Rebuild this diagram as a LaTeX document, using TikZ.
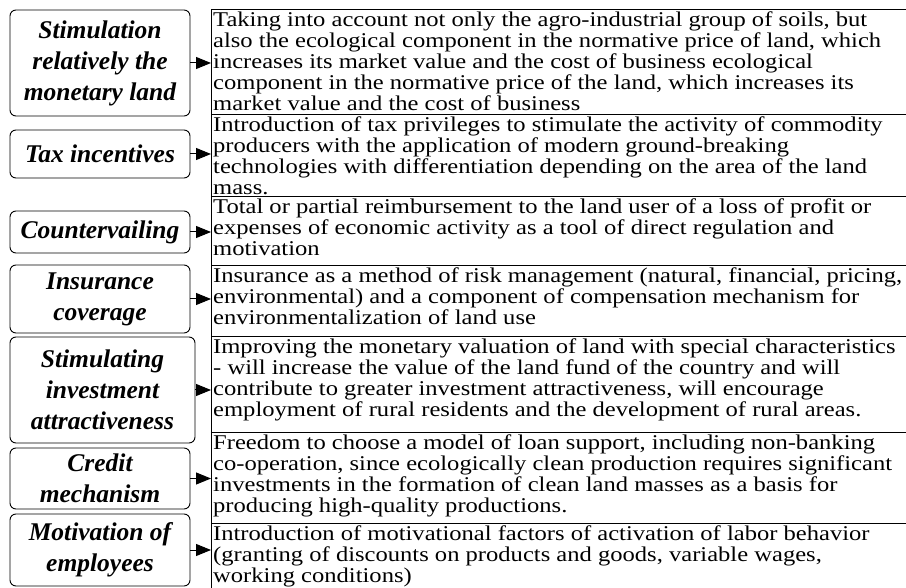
\documentclass[tikz,border=0pt]{standalone}
\usepackage{fontspec}
\setmainfont{Liberation Serif}
\newfontfamily\descfont[FakeStretch=1.17]{Liberation Serif}
\usetikzlibrary{arrows.meta}

\begin{document}
\begin{tikzpicture}[x=1pt,y=-1pt,
   labelbox/.style={draw,rounded corners=6pt,line width=0.9pt,align=center,
      inner sep=0pt,font=\fontsize{25.5}{31}\selectfont\bfseries\itshape},
   descbox/.style={draw,line width=1.1pt,inner sep=0pt,anchor=north west,
      minimum width=720pt},
   desctext/.style={anchor=north west,align=left,inner sep=0pt,
      font=\descfont\fontsize{21}{21}\selectfont},
   arr/.style={line width=1pt,-{Triangle[length=15pt,width=12pt]}}
]
   \useasboundingbox (0,0) rectangle (906,588);
   % description boxes on the right
   \foreach \i/\yt/\yb/\txt in {
      1/9/114/{Taking into account not only the agro-industrial group of soils, but\\
         also the ecological component in the normative price of land, which\\
         increases its market value and the cost of business ecological\\
         component in the normative price of the land, which increases its\\
         market value and the cost of business},
      2/114/196/{Introduction of tax privileges to stimulate the activity of commodity\\
         producers with the application of modern ground-breaking\\
         technologies with differentiation depending on the area of the land\\
         mass.},
      3/196/265/{Total or partial reimbursement to the land user of a loss of profit or\\
         expenses of economic activity as a tool of direct regulation and\\
         motivation},
      4/265/336/{Insurance as a method of risk management (natural, financial, pricing,\\
         environmental) and a component of compensation mechanism for\\
         environmentalization of land use},
      5/336/432/{Improving the monetary valuation of land with special characteristics\\
         - will increase the value of the land fund of the country and will\\
         contribute to greater investment attractiveness, will encourage\\
         employment of rural residents and the development of rural areas.},
      6/432/523/{Freedom to choose a model of loan support, including non-banking\\
         co-operation, since ecologically clean production requires significant\\
         investments in the formation of clean land masses as a basis for\\
         producing high-quality productions.},
      7/523/600/{Introduction of motivational factors of activation of labor behavior\\
         (granting of discounts on products and goods, variable wages,\\
         working conditions)}} {
      \pgfmathsetmacro{\h}{\yb-\yt}
      \node[descbox,minimum height=\h pt] (d\i) at (211,\yt) {};
      \node[desctext] (t\i) at ([xshift=2pt,yshift=-3pt]d\i.north west) {\txt};
   }
   % instruments on the left
   \foreach \i/\yt/\yb/\xr/\txt in {
      1/10/116/190/{Stimulation\\relatively the\\monetary land},
      2/130/178/190/{Tax incentives},
      3/211/253/190/{Countervailing},
      4/265/333/190/{Insurance\\coverage},
      5/337/443/195/{Stimulating\\investment\\attractiveness},
      6/448/509/190/{Credit\\mechanism},
      7/514/586/190/{Motivation of\\employees}} {
      \pgfmathsetmacro{\w}{\xr-10}
      \pgfmathsetmacro{\h}{\yb-\yt}
      \pgfmathsetmacro{\xc}{(\xr+10)/2}
      \pgfmathsetmacro{\yc}{(\yt+\yb)/2}
      \node[labelbox,minimum width=\w pt,minimum height=\h pt] (l\i) at (\xc,\yc) {\txt};
      \draw[arr] (l\i.east) -- (l\i.east -| d\i.west);
   }
\end{tikzpicture}
\end{document}
